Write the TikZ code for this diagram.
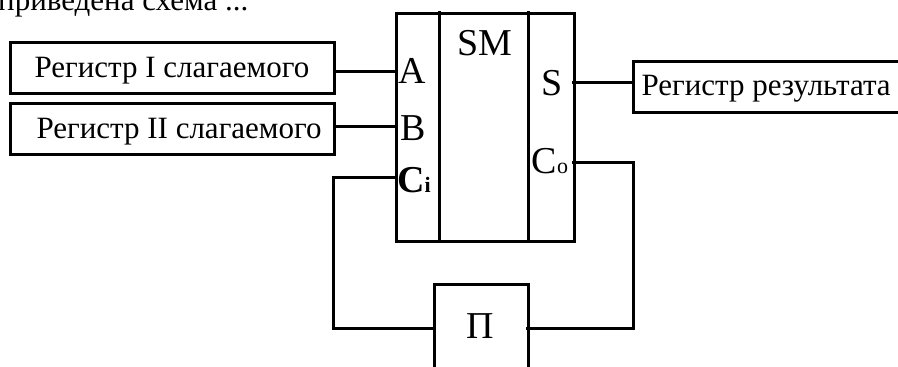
\documentclass[tikz,border=0pt]{standalone}
\usepackage{fontspec}
\setmainfont{Liberation Serif}
\begin{document}
\begin{tikzpicture}[x=1pt,y=-1pt,
  wire/.style={line width=3pt, line cap=rect},
  box/.style={draw, line width=3pt, inner sep=0pt, anchor=north west},
  reglabel/.style={font=\fontsize{31}{32}\selectfont},
  port/.style={font=\fontsize{38}{40}\selectfont, inner sep=0pt}]
\useasboundingbox (0,0) rectangle (898,367);
\node[anchor=base west, inner sep=0pt, font=\fontsize{31}{32}\selectfont] (cap) at (-2,10) {приведена схема ...};
% registers
\node[box, minimum width=324pt, minimum height=51pt] (r1) at (9,41) {};
\node[reglabel, anchor=base west] (t1) at (31,77) {Регистр I слагаемого};
\node[box, minimum width=324pt, minimum height=51pt] (r2) at (9,102) {};
\node[reglabel, anchor=base west] (t2) at (33,138) {Регистр II слагаемого};
% adder
\node[box, minimum width=178pt, minimum height=228pt] (sm) at (395,12) {};
\draw[wire] (439,12) -- (439,240);
\draw[wire] (528,12) -- (528,240);
\node[port, anchor=base] (lA) at (412,83) {A};
\node[port, anchor=base] (lB) at (413,140) {B};
\node[port, anchor=base] (lC) at (414,192) {\textbf{C}{\fontsize{22}{22}\selectfont\textbf{i}}};
\node[port, anchor=base] (lSM) at (485,55) {SM};
\node[port, anchor=base] (lS) at (552,95) {S};
\node[port, anchor=base] (lCo) at (550,173) {C{\fontsize{22}{22}\selectfont o}};
% result register
\node[box, minimum width=300pt, minimum height=51pt] (res) at (632,60) {};
\node[reglabel, anchor=base west] (t3) at (638,95) {Регистр результата};
% carry
\node[box, minimum width=94pt, minimum height=100pt] (pi) at (433,283) {};
\node[port, anchor=base] (lpi) at (480,338) {П};
% port coordinates
\coordinate (pA) at (395,71);
\coordinate (pB) at (395,126);
\coordinate (pCi) at (395,177);
\coordinate (pS) at (573,82);
\coordinate (pCo) at (573,162);
\coordinate (pin) at (433,328);
\coordinate (pout) at (527,328);
% wires
\draw[wire] (r1.east |- pA) -- (pA);
\draw[wire] (r2.east |- pB) -- (pB);
\draw[wire] (pS) -- (res.west |- pS);
\draw[wire] (pCi) -- ++(-62,0) |- (pin);
\draw[wire] (pCo) -- ++(60,0) |- (pout);
\end{tikzpicture}
\end{document}
